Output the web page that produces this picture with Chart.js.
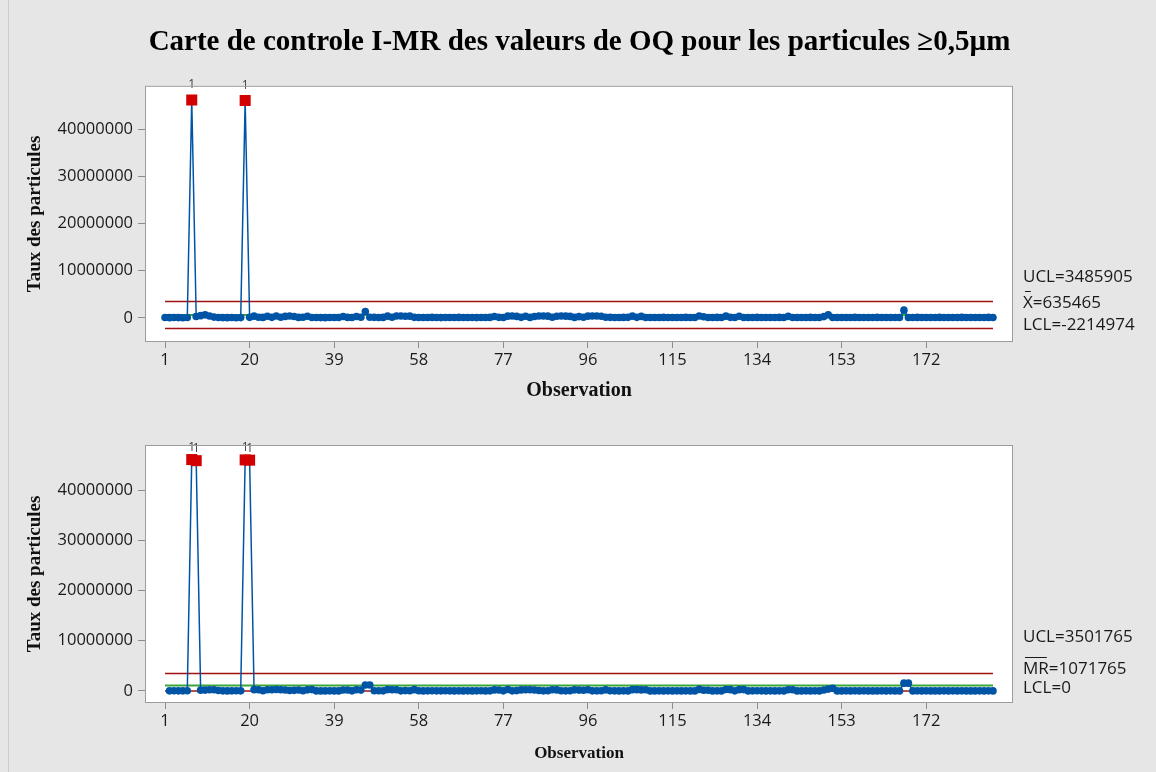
<!DOCTYPE html>
<html>
<head>
<meta charset="utf-8">
<script src="https://cdn.jsdelivr.net/npm/chart.js@4.4.1/dist/chart.umd.min.js"></script>
<style>
    html, body { margin: 0; padding: 0; background: #e6e6e6; }
    body { width: 1156px; height: 772px; position: relative; overflow: hidden; }
    .frame { position: absolute; left: 8px; top: 0; height: 772px; border-left: 1px solid #cdcdcd; }
    #iChart { position: absolute; left: 0; top: 0; }
    #mrChart { position: absolute; left: 0; top: 400px; }
</style>
</head>
<body>
<div class="frame"></div>
<canvas id="iChart" width="1156" height="400"></canvas>
<canvas id="mrChart" width="1156" height="372"></canvas>
<script>
// axis ticks
const xTicks = [1, 20, 39, 58, 77, 96, 115, 134, 153, 172];
const yTicks = [0, 10000000, 20000000, 30000000, 40000000];

// individual values, observation 1..187
const iValues = [
    80000, 60000, 90000, 70000, 50000, 100000, 46200000, 320000, 480000, 650000,
    420000, 180000, 90000, 70000, 60000, 80000, 50000, 70000, 46100000, 120000,
    380000, 150000, 110000, 350000, 120000, 400000, 150000, 330000, 420000, 300000,
    110000, 140000, 360000, 90000, 80000, 70000, 60000, 80000, 90000, 100000,
    300000, 110000, 90000, 320000, 150000, 1350000, 150000, 120000, 90000, 110000,
    380000, 150000, 400000, 420000, 350000, 380000, 120000, 90000, 100000, 80000,
    110000, 90000, 70000, 100000, 80000, 90000, 110000, 100000, 80000, 90000,
    70000, 100000, 90000, 110000, 320000, 120000, 100000, 380000, 400000, 330000,
    120000, 350000, 110000, 300000, 400000, 420000, 380000, 150000, 360000, 400000,
    380000, 330000, 110000, 280000, 150000, 380000, 400000, 420000, 370000, 150000,
    120000, 100000, 90000, 110000, 120000, 380000, 120000, 330000, 100000, 90000,
    80000, 100000, 110000, 90000, 80000, 100000, 90000, 110000, 100000, 90000,
    400000, 250000, 100000, 90000, 110000, 100000, 380000, 120000, 100000, 360000,
    90000, 100000, 80000, 110000, 90000, 100000, 80000, 90000, 110000, 100000,
    340000, 100000, 90000, 80000, 100000, 110000, 90000, 100000, 280000, 650000,
    100000, 90000, 80000, 100000, 90000, 110000, 100000, 80000, 90000, 100000,
    110000, 90000, 80000, 100000, 90000, 100000, 1650000, 100000, 90000, 110000,
    100000, 80000, 90000, 100000, 110000, 90000, 80000, 100000, 90000, 110000,
    100000, 90000, 80000, 100000, 90000, 110000, 100000
];

// moving ranges, observation 2..187
const mrValues = [
    20000, 30000, 20000, 20000, 50000, 46100000, 45880000, 160000, 170000, 230000,
    240000, 90000, 20000, 10000, 20000, 30000, 20000, 46030000, 45980000, 260000,
    230000, 40000, 240000, 230000, 280000, 250000, 180000, 90000, 120000, 190000,
    30000, 220000, 270000, 10000, 10000, 10000, 20000, 10000, 10000, 200000,
    190000, 20000, 230000, 170000, 1200000, 1200000, 30000, 30000, 20000, 270000,
    230000, 250000, 20000, 70000, 30000, 260000, 30000, 10000, 20000, 30000,
    20000, 20000, 30000, 20000, 10000, 20000, 10000, 20000, 10000, 20000,
    30000, 10000, 20000, 210000, 200000, 20000, 280000, 20000, 70000, 210000,
    230000, 240000, 190000, 100000, 20000, 40000, 230000, 210000, 40000, 20000,
    50000, 220000, 170000, 130000, 230000, 20000, 20000, 50000, 220000, 30000,
    20000, 10000, 20000, 10000, 260000, 260000, 210000, 230000, 10000, 10000,
    20000, 10000, 20000, 10000, 20000, 10000, 20000, 10000, 10000, 310000,
    150000, 150000, 10000, 20000, 10000, 280000, 260000, 20000, 260000, 270000,
    10000, 20000, 30000, 20000, 10000, 20000, 10000, 20000, 10000, 240000,
    240000, 10000, 10000, 20000, 10000, 20000, 10000, 180000, 370000, 550000,
    10000, 10000, 20000, 10000, 20000, 10000, 20000, 10000, 10000, 10000,
    20000, 10000, 20000, 10000, 10000, 1550000, 1550000, 10000, 20000, 10000,
    20000, 10000, 10000, 10000, 20000, 10000, 20000, 10000, 20000, 10000,
    10000, 10000, 20000, 10000, 20000, 10000
];

// control limits
const iUcl = 3485905;
const iMean = 635465;
const iLcl = -2214974;
const mrUcl = 3501765;
const mrMean = 1071765;
const mrLcl = 0;

const BLUE = '#0054a6';
const RED_PT = '#d20000';
const RED_LINE = '#a31010';
const GREEN = '#3aa53a';
const TICK_COLOR = '#1a1a1a';
const SERIF = 'Liberation Serif';

Chart.defaults.font.family = '"Open Sans", "Noto Sans", sans-serif';

const plotFrame = {
    id: 'plotFrame',
    beforeDraw (chart) {
        const { ctx, chartArea: a } = chart;
        ctx.save();
        ctx.fillStyle = '#ffffff';
        ctx.fillRect(a.left, a.top, a.right - a.left, a.bottom - a.top);
        ctx.restore();
    },
    afterDraw (chart) {
        const { ctx, chartArea: a } = chart;
        ctx.save();
        ctx.strokeStyle = '#9c9c9c';
        ctx.lineWidth = 1;
        ctx.strokeRect(a.left + 0.5, a.top + 0.5, a.right - a.left - 1, a.bottom - a.top - 1);
        ctx.restore();
    }
};

// "1" markers above points beyond the UCL
const testLabels = {
    id: 'testLabels',
    afterDatasetsDraw (chart, args, opts) {
        const { ctx } = chart;
        const meta = chart.getDatasetMeta(0);
        ctx.save();
        ctx.font = '12px "Open Sans"';
        ctx.fillStyle = '#404040';
        ctx.textAlign = 'center';
        ctx.textBaseline = 'middle';
        meta.data.forEach((pt, i) => {
            const raw = chart.data.datasets[0].data[i];
            if (raw.y > opts.ucl) {
                ctx.fillText('1', pt.x, pt.y - opts.offset);
            }
        });
        ctx.restore();
    }
};

// limit labels on the right side
const limitLabels = {
    id: 'limitLabels',
    afterDraw (chart, args, opts) {
        const { ctx, chartArea, scales } = chart;
        const x = chartArea.right + 10;
        ctx.save();
        ctx.font = '17px "Open Sans"';
        ctx.fillStyle = TICK_COLOR;
        ctx.strokeStyle = TICK_COLOR;
        ctx.lineWidth = 1;
        ctx.textAlign = 'left';
        ctx.textBaseline = 'middle';
        let prevY = null;
        let prevBar = false;
        opts.items.forEach(item => {
            let y = scales.y.getPixelForValue(item.value) - 3;
            if (prevY !== null) {
                y = Math.min(y, prevY - opts.gap - (prevBar ? opts.barGap : 0));
            }
            let cx = x;
            if (item.bar) {
                const w = ctx.measureText(item.bar).width;
                ctx.fillText(item.bar, cx, y);
                ctx.beginPath();
                ctx.moveTo(cx + 2, Math.round(y - 12) + 0.5);
                ctx.lineTo(cx + w - 2, Math.round(y - 12) + 0.5);
                ctx.stroke();
                cx += w;
            }
            ctx.fillText(item.text, cx, y);
            prevY = y;
            prevBar = !!item.bar;
        });
        ctx.restore();
    }
};

function seriesPoints (values, firstObs) {
    return values.map((v, i) => ({ x: firstObs + i, y: v }));
}

function limitLine (value, color, width) {
    return {
        data: [{ x: 1, y: value }, { x: iValues.length, y: value }],
        borderColor: color,
        borderWidth: width,
        pointRadius: 0,
        fill: false
    };
}

function dataSeries (values, firstObs, ucl) {
    const beyond = c => c.raw && c.raw.y > ucl;
    return {
        data: seriesPoints(values, firstObs),
        borderColor: BLUE,
        borderWidth: 1.5,
        tension: 0,
        fill: false,
        pointStyle: c => beyond(c) ? 'rect' : 'circle',
        pointRadius: c => beyond(c) ? 7.8 : 3.8,
        pointBackgroundColor: c => beyond(c) ? RED_PT : BLUE,
        pointBorderWidth: 0
    };
}

function buildScales (yMin, yMax, xHeight, xTitleFont, xTitlePad) {
    return {
        x: {
            type: 'linear',
            min: -3.5,
            max: 191.5,
            afterBuildTicks: s => { s.ticks = xTicks.map(v => ({ value: v })); },
            afterFit: s => { s.height = xHeight; },
            grid: { display: true, drawOnChartArea: false, drawTicks: true, tickLength: 6, color: '#8c8c8c' },
            border: { display: false },
            ticks: { font: { size: 16.5 }, color: TICK_COLOR, padding: 2, maxRotation: 0, autoSkip: false, callback: v => String(v) },
            title: { display: true, text: 'Observation', font: xTitleFont, color: '#111', padding: xTitlePad }
        },
        y: {
            min: yMin,
            max: yMax,
            afterBuildTicks: s => { s.ticks = yTicks.map(v => ({ value: v })); },
            afterFit: s => { s.width = 142; },
            grid: { display: true, drawOnChartArea: false, drawTicks: true, tickLength: 7, color: '#8c8c8c' },
            border: { display: false },
            ticks: { font: { size: 16.5 }, color: TICK_COLOR, padding: 5, callback: v => String(v) },
            title: {
                display: true,
                text: 'Taux des particules',
                font: { family: SERIF, weight: 'bold', size: 19, lineHeight: 1.2 },
                color: '#111',
                padding: { top: 21, bottom: 0 }
            }
        },
        // empty right-hand axis that reserves room for the limit labels
        yRight: {
            position: 'right',
            display: true,
            afterFit: s => { s.width = 143; },
            grid: { display: false },
            border: { display: false },
            ticks: { display: false }
        }
    };
}

new Chart(document.getElementById('iChart'), {
    type: 'line',
    data: {
        datasets: [
            dataSeries(iValues, 1, iUcl),
            limitLine(iMean, GREEN, 2),
            limitLine(iUcl, RED_LINE, 1.5),
            limitLine(iLcl, RED_LINE, 1.5)
        ]
    },
    plugins: [plotFrame, testLabels, limitLabels],
    options: {
        responsive: false,
        animation: false,
        layout: { padding: { left: 3, right: 0, top: 0, bottom: 0 } },
        scales: buildScales(-5100000, 49200000, 58,
            { family: SERIF, weight: 'bold', size: 20, lineHeight: 0.9 }, { top: 0, bottom: 0 }),
        plugins: {
            legend: { display: false },
            tooltip: { enabled: false },
            title: {
                display: true,
                text: 'Carte de controle I-MR des valeurs de OQ pour les particules ≥0,5µm',
                font: { family: SERIF, weight: 'bold', size: 29, lineHeight: 1.2 },
                color: '#000',
                padding: { top: 25, bottom: 26 }
            },
            testLabels: { ucl: iUcl, offset: 15 },
            limitLabels: {
                gap: 22,
                barGap: 4,
                items: [
                    { value: iLcl, text: `LCL=${iLcl}` },
                    { value: iMean, bar: 'X', text: `=${iMean}` },
                    { value: iUcl, text: `UCL=${iUcl}` }
                ]
            }
        }
    }
});

new Chart(document.getElementById('mrChart'), {
    type: 'line',
    data: {
        datasets: [
            dataSeries(mrValues, 2, mrUcl),
            limitLine(mrMean, GREEN, 2),
            limitLine(mrUcl, RED_LINE, 1.5),
            limitLine(mrLcl, RED_LINE, 1.5)
        ]
    },
    plugins: [plotFrame, testLabels, limitLabels],
    options: {
        responsive: false,
        animation: false,
        layout: { padding: { left: 3, right: 0, top: 45, bottom: 0 } },
        scales: buildScales(-2400000, 49000000, 69,
            { family: SERIF, weight: 'bold', size: 17, lineHeight: 1.2 }, { top: 0, bottom: 8 }),
        plugins: {
            legend: { display: false },
            tooltip: { enabled: false },
            testLabels: { ucl: mrUcl, offset: 12 },
            limitLabels: {
                gap: 19,
                barGap: 13,
                items: [
                    { value: mrLcl, text: `LCL=${mrLcl}` },
                    { value: mrMean, bar: 'MR', text: `=${mrMean}` },
                    { value: mrUcl, text: `UCL=${mrUcl}` }
                ]
            }
        }
    }
});
</script>
</body>
</html>
